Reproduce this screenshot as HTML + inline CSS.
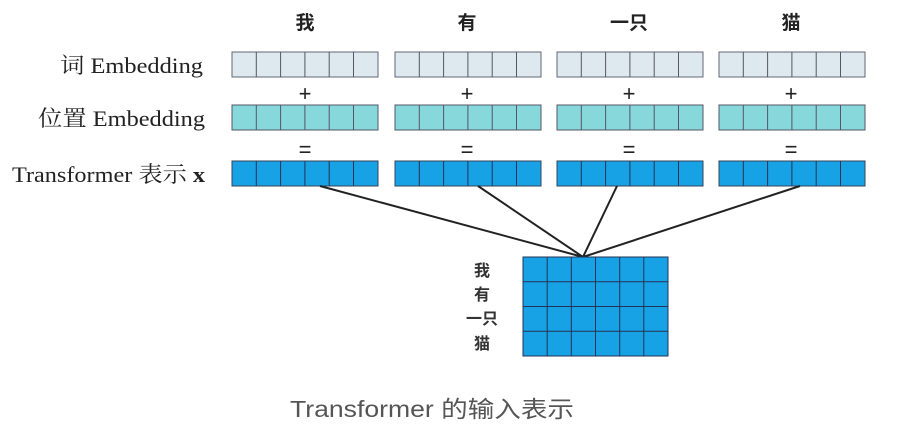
<!DOCTYPE html>
<html><head><meta charset="utf-8"><style>
body{margin:0;background:#fff;width:911px;height:429px;overflow:hidden}
svg text{font-family:"Liberation Serif","Noto Serif CJK SC",serif;fill:#222}
</style></head><body>
<svg width="911" height="429" viewBox="0 0 911 429" xmlns="http://www.w3.org/2000/svg">
<g font-size="19" font-weight="bold" text-anchor="middle">
<text x="305" y="29" style="font-family:'Noto Sans CJK SC',sans-serif">我</text>
<text x="467" y="29" style="font-family:'Noto Sans CJK SC',sans-serif">有</text>
<text x="629" y="29" style="font-family:'Noto Sans CJK SC',sans-serif">一只</text>
<text x="791" y="29" style="font-family:'Noto Sans CJK SC',sans-serif">猫</text>
</g>
<g font-size="22" text-anchor="end">
<text x="203" y="73" textLength="143" lengthAdjust="spacingAndGlyphs">词 Embedding</text>
<text x="205" y="126" textLength="167" lengthAdjust="spacingAndGlyphs">位置 Embedding</text>
<text x="205" y="182" textLength="193" lengthAdjust="spacingAndGlyphs">Transformer 表示 <tspan font-weight="bold">x</tspan></text>
</g>
<g fill="#dde9ef" stroke="#667" stroke-width="1">
<rect x="232" y="52" width="146" height="25"/><rect x="395" y="52" width="146" height="25"/><rect x="557" y="52" width="146" height="25"/><rect x="719" y="52" width="146" height="25"/>
</g>
<g fill="#86d8da" stroke="#556" stroke-width="1">
<rect x="232" y="105" width="146" height="25"/><rect x="395" y="105" width="146" height="25"/><rect x="557" y="105" width="146" height="25"/><rect x="719" y="105" width="146" height="25"/>
</g>
<g fill="#17a2e6" stroke="#345" stroke-width="1">
<rect x="232" y="161" width="146" height="25"/><rect x="395" y="161" width="146" height="25"/><rect x="557" y="161" width="146" height="25"/><rect x="719" y="161" width="146" height="25"/>
</g>
<g stroke="#556" stroke-width="1">
<path d="M256.3 52V77M280.6 52V77M304.9 52V77M329.2 52V77M353.5 52V77 M419.3 52V77M443.6 52V77M467.9 52V77M492.2 52V77M516.5 52V77 M581.3 52V77M605.6 52V77M629.9 52V77M654.2 52V77M678.5 52V77 M743.3 52V77M767.6 52V77M791.9 52V77M816.2 52V77M840.5 52V77"/>
<path d="M256.3 105V130M280.6 105V130M304.9 105V130M329.2 105V130M353.5 105V130 M419.3 105V130M443.6 105V130M467.9 105V130M492.2 105V130M516.5 105V130 M581.3 105V130M605.6 105V130M629.9 105V130M654.2 105V130M678.5 105V130 M743.3 105V130M767.6 105V130M791.9 105V130M816.2 105V130M840.5 105V130"/>
<path stroke="#235" d="M256.3 161V186M280.6 161V186M304.9 161V186M329.2 161V186M353.5 161V186 M419.3 161V186M443.6 161V186M467.9 161V186M492.2 161V186M516.5 161V186 M581.3 161V186M605.6 161V186M629.9 161V186M654.2 161V186M678.5 161V186 M743.3 161V186M767.6 161V186M791.9 161V186M816.2 161V186M840.5 161V186"/>
</g>
<g font-size="22" text-anchor="middle">
<text x="305" y="101" style="font-family:'Liberation Sans',sans-serif">+</text><text x="467" y="101" style="font-family:'Liberation Sans',sans-serif">+</text><text x="629" y="101" style="font-family:'Liberation Sans',sans-serif">+</text><text x="791" y="101" style="font-family:'Liberation Sans',sans-serif">+</text>
<text x="305" y="157" style="font-family:'Liberation Sans',sans-serif">=</text><text x="467" y="157" style="font-family:'Liberation Sans',sans-serif">=</text><text x="629" y="157" style="font-family:'Liberation Sans',sans-serif">=</text><text x="791" y="157" style="font-family:'Liberation Sans',sans-serif">=</text>
</g>
<g stroke="#222" stroke-width="2" fill="none">
<path d="M320 186L583 257M478 186L583 257M617 186L583 257M800 186L583 257"/>
</g>
<rect x="523" y="257" width="145" height="99" fill="#17a2e6" stroke="#235"/>
<path stroke="#235" stroke-width="1" d="M547.2 257V356M571.3 257V356M595.5 257V356M619.7 257V356M643.8 257V356M523 281.75H668M523 306.5H668M523 331.25H668"/>
<g font-size="16" font-weight="bold" text-anchor="middle">
<text x="482" y="276" style="font-family:'Noto Sans CJK SC',sans-serif;fill:#333">我</text>
<text x="482" y="300" style="font-family:'Noto Sans CJK SC',sans-serif;fill:#333">有</text>
<text x="482" y="324" style="font-family:'Noto Sans CJK SC',sans-serif;fill:#333">一只</text>
<text x="482" y="349" style="font-family:'Noto Sans CJK SC',sans-serif;fill:#333">猫</text>
</g>
<text x="432" y="417" font-size="23" text-anchor="middle" textLength="284" lengthAdjust="spacingAndGlyphs" style="font-family:'Liberation Sans','Noto Sans CJK SC',sans-serif;fill:#555">Transformer 的输入表示</text>
</svg>
</body></html>
